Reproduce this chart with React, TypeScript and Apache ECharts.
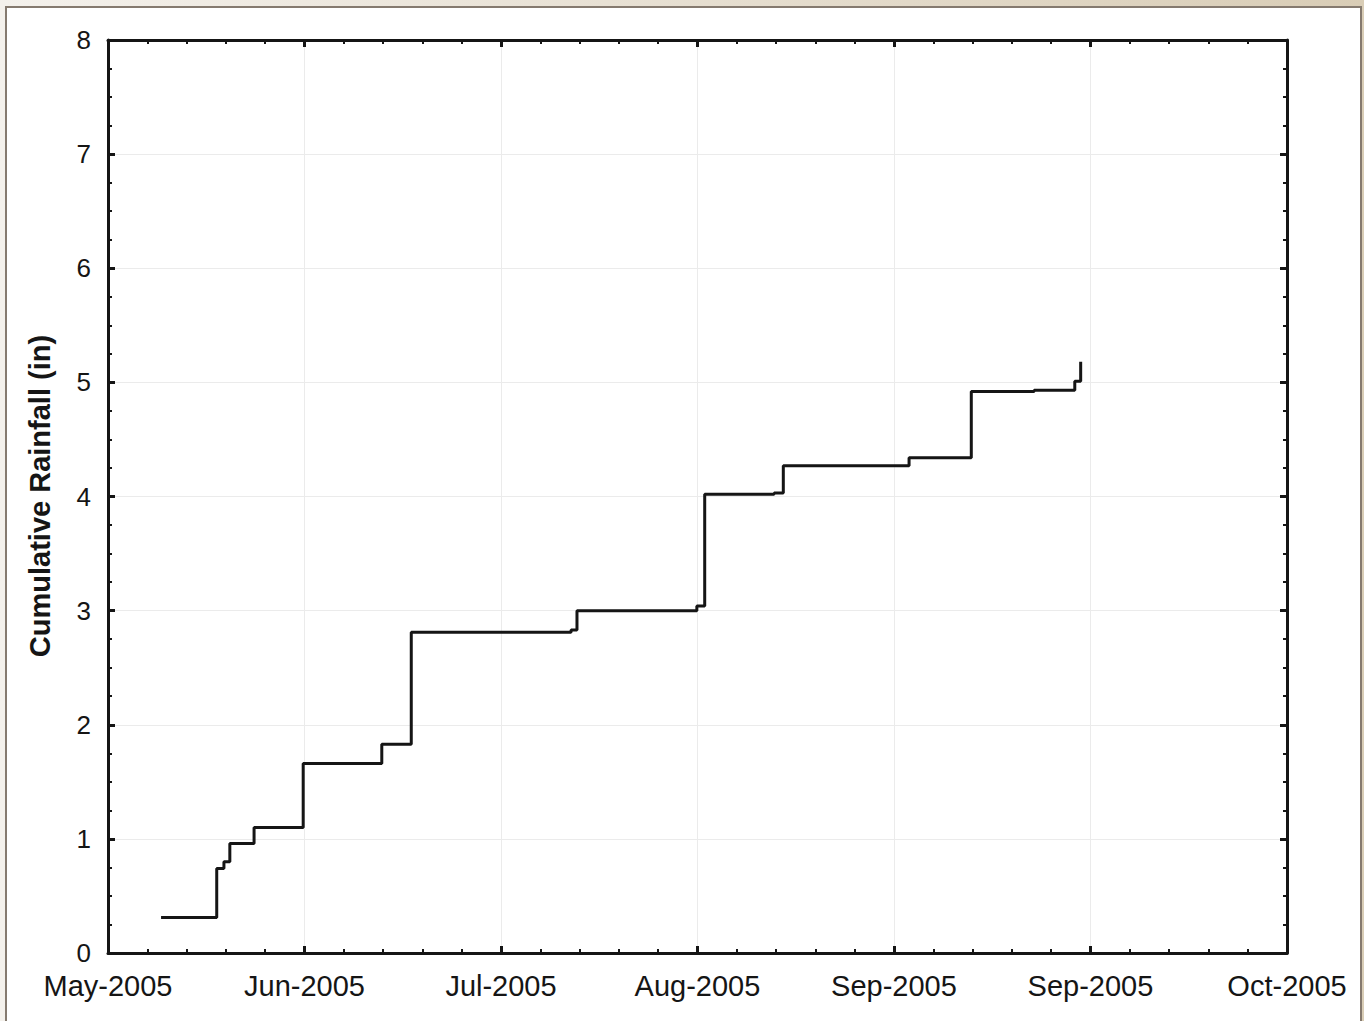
import React, { useEffect, useRef } from "react";
import * as echarts from "echarts";

// Month labels printed under the evenly spaced x ticks (every 30 days)
const tickLabels = ["May-2005", "Jun-2005", "Jul-2005", "Aug-2005", "Sep-2005", "Sep-2005", "Oct-2005"];
// Days since the start of the axis at which the cumulative total changes
const dayOffsets = [8.1, 16.6, 17.7, 18.6, 22.3, 29.8, 41.8, 46.3, 70.7, 71.6, 89.9, 91.1, 101.7, 103.1, 122.3, 131.8, 141.4, 147.6, 148.5];
// Cumulative rainfall (inches) reached at each of those days
const cumulativeRainfall = [0.31, 0.74, 0.8, 0.96, 1.1, 1.66, 1.83, 2.81, 2.83, 3.0, 3.04, 4.02, 4.03, 4.27, 4.34, 4.92, 4.93, 5.01, 5.18];

const FONT = "'Liberation Sans', Arial, sans-serif";
const INK = "#151515";

function frameAxis(splitNumber: number) {
  return {
    axisLine: { show: true, onZero: false, lineStyle: { color: INK, width: 3 } },
    axisTick: { show: true, inside: true, length: 7, lineStyle: { color: INK, width: 3 } },
    minorTick: { show: true, splitNumber, length: 4, lineStyle: { color: INK, width: 2 } },
  };
}

export default function App() {
  const ref = useRef<HTMLDivElement>(null);

  useEffect(() => {
    if (!ref.current) return;
    const chart = echarts.init(ref.current, null, { renderer: "svg" });

    const points = dayOffsets.map((d, i) => [d, cumulativeRainfall[i]]);

    chart.setOption({
      animation: false,
      backgroundColor: "#ffffff",
      graphic: [
        {
          type: "rect",
          silent: true,
          z: -10,
          shape: { x: 0, y: 0, width: 1364, height: 1021 },
          style: {
            fill: new echarts.graphic.LinearGradient(0, 0, 1, 0, [
              { offset: 0, color: "#f4f1ec" },
              { offset: 1, color: "#d9cdb6" },
            ]),
          },
        },
        {
          type: "rect",
          silent: true,
          z: -9,
          shape: { x: 6, y: 7, width: 1355, height: 1030 },
          style: { fill: "#ffffff", stroke: "#857a6f", lineWidth: 2 },
        },
        {
          type: "text",
          x: 40,
          y: 496,
          rotation: Math.PI / 2,
          style: {
            text: "Cumulative Rainfall (in)",
            font: `bold 29px ${FONT}`,
            fill: INK,
            align: "center",
            verticalAlign: "middle",
          },
        },
      ],
      grid: { left: 108, right: 77, top: 40, bottom: 68, containLabel: false },
      xAxis: [
        {
          type: "value",
          position: "bottom",
          min: 0,
          max: 180,
          interval: 30,
          ...frameAxis(5),
          splitLine: { show: true, lineStyle: { color: "#ebebeb", width: 1 } },
          axisLabel: {
            color: INK,
            fontFamily: FONT,
            fontSize: 29,
            margin: 18,
            formatter: (v: number) => tickLabels[Math.round(v / 30)] ?? "",
          },
        },
        {
          type: "value",
          position: "top",
          min: 0,
          max: 180,
          interval: 30,
          ...frameAxis(5),
          splitLine: { show: false },
          axisLabel: { show: false },
        },
      ],
      yAxis: [
        {
          type: "value",
          position: "left",
          min: 0,
          max: 8,
          interval: 1,
          ...frameAxis(4),
          splitLine: { show: true, lineStyle: { color: "#ebebeb", width: 1 } },
          axisLabel: { color: INK, fontFamily: FONT, fontSize: 26, margin: 17 },
        },
        {
          type: "value",
          position: "right",
          min: 0,
          max: 8,
          interval: 1,
          ...frameAxis(4),
          splitLine: { show: false },
          axisLabel: { show: false },
        },
      ],
      series: [
        {
          type: "line",
          step: "end",
          xAxisIndex: 0,
          yAxisIndex: 0,
          showSymbol: false,
          lineStyle: { color: INK, width: 3 },
          data: points,
        },
        {
          // same data on the mirrored axes so the top and right frame edges are drawn
          type: "line",
          step: "end",
          xAxisIndex: 1,
          yAxisIndex: 1,
          showSymbol: false,
          silent: true,
          lineStyle: { opacity: 0 },
          data: points,
        },
      ],
    });

    return () => chart.dispose();
  }, []);

  return (
    <div
      ref={ref}
      style={{ position: "absolute", left: 0, top: 0, width: 1364, height: 1021 }}
    />
  );
}
